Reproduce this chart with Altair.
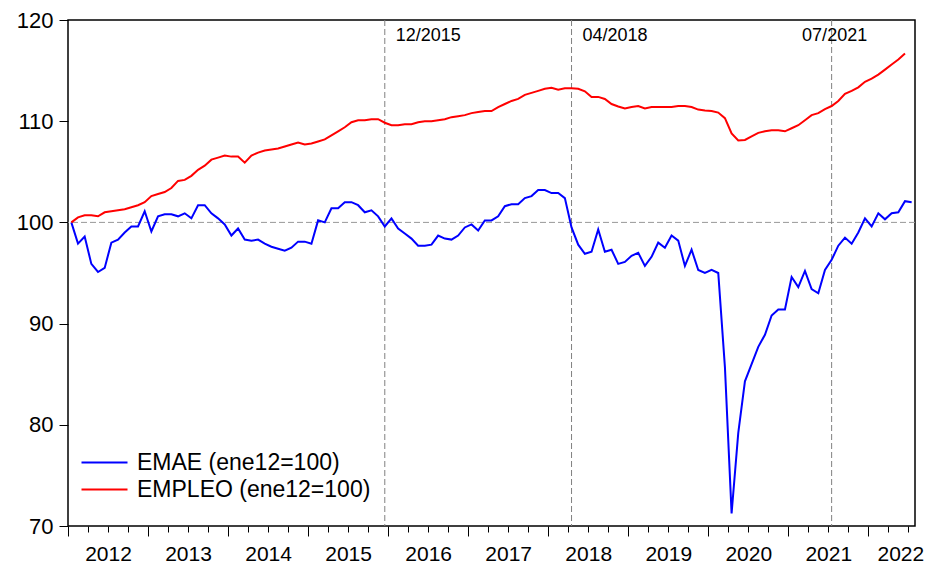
import altair as alt
import pandas as pd

# ---- data (monthly, Jan 2012 = month 0) ----
YEAR_LABELS = ["2012", "2013", "2014", "2015", "2016", "2017",
               "2018", "2019", "2020", "2021", "2022"]
YEAR_LABEL_POS = [6, 18, 30, 42, 54, 66, 78, 90, 102, 114, 124.8]  # month index of each year label
Y_TICKS = [70, 80, 90, 100, 110, 120]
SERIES_NAMES = ["EMAE (ene12=100)", "EMPLEO (ene12=100)"]
SERIES_COLORS = ["#0000FF", "#FF0000"]

EMAE = [100.0, 97.9, 98.6, 95.9, 95.1, 95.5, 98.0, 98.3, 99.0, 99.6, 99.6, 101.1,
        99.1, 100.6, 100.8, 100.8, 100.6, 100.9, 100.4, 101.7, 101.7, 100.9, 100.4, 99.8,
        98.7, 99.4, 98.3, 98.2, 98.3, 97.9, 97.6, 97.4, 97.2, 97.5, 98.1, 98.1,
        97.9, 100.2, 100.0, 101.4, 101.4, 102.0, 102.0, 101.7, 101.0, 101.2, 100.6, 99.6,
        100.4, 99.4, 98.9, 98.4, 97.7, 97.7, 97.8, 98.7, 98.4, 98.3, 98.7, 99.5,
        99.8, 99.2, 100.2, 100.2, 100.6, 101.6, 101.8, 101.8, 102.4, 102.6, 103.2, 103.2,
        102.9, 102.9, 102.4, 99.5, 97.8, 96.9, 97.1, 99.3, 97.1, 97.3, 95.9, 96.1,
        96.7, 97.0, 95.7, 96.6, 98.0, 97.5, 98.7, 98.2, 95.7, 97.3, 95.3, 95.0,
        95.3, 95.0, 85.7, 71.25, 79.2, 84.3, 86.0, 87.7, 88.9, 90.8, 91.4, 91.4,
        94.6, 93.6, 95.2, 93.4, 93.0, 95.3, 96.3, 97.7, 98.5, 97.9, 99.0, 100.4,
        99.6, 100.9, 100.3, 100.9, 101.0, 102.1, 102.0]

EMPLEO = [100.0, 100.5, 100.7, 100.7, 100.6, 101.0, 101.1, 101.2, 101.3, 101.5, 101.7, 102.0,
          102.6, 102.8, 103.0, 103.4, 104.1, 104.2, 104.6, 105.2, 105.6, 106.2, 106.4, 106.6,
          106.5, 106.5, 105.9, 106.6, 106.9, 107.1, 107.2, 107.3, 107.5, 107.7, 107.9, 107.7,
          107.8, 108.0, 108.2, 108.6, 109.0, 109.4, 109.9, 110.1, 110.1, 110.2, 110.2, 109.85,
          109.6, 109.6, 109.7, 109.7, 109.9, 110.0, 110.0, 110.1, 110.2, 110.4, 110.5, 110.6,
          110.8, 110.9, 111.0, 111.0, 111.4, 111.7, 112.0, 112.2, 112.6, 112.8, 113.0, 113.2,
          113.3, 113.1, 113.25, 113.25, 113.2, 112.95, 112.4, 112.4, 112.2, 111.7, 111.45, 111.25,
          111.4, 111.5, 111.25, 111.4, 111.4, 111.4, 111.4, 111.5, 111.5, 111.4, 111.15, 111.05,
          111.0, 110.85, 110.3, 108.8, 108.1, 108.15, 108.5, 108.85, 109.0, 109.1, 109.1, 109.0,
          109.3, 109.6, 110.1, 110.6, 110.8, 111.2, 111.5, 112.0, 112.7, 113.0, 113.35, 113.9,
          114.2, 114.6, 115.1, 115.6, 116.1, 116.7]

EVENT_LABELS = ["12/2015", "04/2018", "07/2021"]
EVENT_MONTHS = [47, 75, 114]
REF_LEVEL = [100]

N_MONTHS = 127  # Jan 2012 .. Jul 2022

# ---- tables ----
lines_df = pd.concat([
    pd.DataFrame({"m": list(range(len(EMAE))), "v": EMAE, "serie": SERIES_NAMES[0]}),
    pd.DataFrame({"m": list(range(len(EMPLEO))), "v": EMPLEO, "serie": SERIES_NAMES[1]}),
], ignore_index=True)
events_df = pd.DataFrame({"m": EVENT_MONTHS, "label": EVENT_LABELS})
ref_df = pd.DataFrame({"v": REF_LEVEL})

FONT = "Liberation Sans"
x_scale = alt.Scale(domain=[0, N_MONTHS], nice=False, zero=False)
y_scale = alt.Scale(domain=[70, 120], nice=False, zero=False)

label_array = "[" + ",".join("'" + y + "'" for y in YEAR_LABELS) + "]"
pos_array = "[" + ",".join(str(p) for p in YEAR_LABEL_POS) + "]"
tick_values = sorted(set(list(range(0, N_MONTHS, 3)) + YEAR_LABEL_POS))
x_axis = alt.Axis(
    values=tick_values,
    tickSize={"condition": {"test": "datum.value % 12 === 0", "value": 10}, "value": 6},
    tickOpacity={"condition": {"test": "datum.value % 3 !== 0", "value": 0}, "value": 1},
    tickColor="black", tickWidth=1,
    labelExpr=f"indexof({pos_array}, datum.value) >= 0 ? "
              f"{label_array}[indexof({pos_array}, datum.value)] : ''",
    labelFont=FONT, labelFontSize=21, labelColor="black", labelPadding=11,
    labelOverlap=False, labelFlush=False,
    grid=False, domain=False, title=None,
)
y_axis = alt.Axis(
    values=Y_TICKS, tickSize=9, tickColor="black", tickWidth=1,
    labelFont=FONT, labelFontSize=22, labelColor="black", labelPadding=6,
    grid=False, domain=False, title=None,
)

ref_rule = alt.Chart(ref_df).mark_rule(
    color="#999999", strokeWidth=1, strokeDash=[6, 3]
).encode(y=alt.Y("v:Q", scale=y_scale, axis=y_axis))

event_rules = alt.Chart(events_df).transform_calculate(t="datum.m + 0.5").mark_rule(
    color="#808080", strokeWidth=1, strokeDash=[6, 3]
).encode(x=alt.X("t:Q", scale=x_scale, axis=x_axis))

lines = alt.Chart(lines_df).transform_calculate(t="datum.m + 0.5").mark_line(
    strokeWidth=2
).encode(
    x=alt.X("t:Q", scale=x_scale, axis=x_axis),
    y=alt.Y("v:Q", scale=y_scale, axis=y_axis),
    color=alt.Color(
        "serie:N",
        scale=alt.Scale(domain=SERIES_NAMES, range=SERIES_COLORS),
        legend=alt.Legend(
            orient="none", legendX=24, legendY=430, title=None,
            symbolType="M-2,0H2", symbolSize=529, symbolStrokeWidth=2,
            labelFont=FONT, labelFontSize=23, labelColor="black",
            labelOffset=20, rowPadding=2, padding=0, labelLimit=0,
        ),
    ),
    detail="serie:N",
)

ev_left = alt.Chart(events_df).transform_filter("datum.m < 100").transform_calculate(
    t="datum.m + 0.5").mark_text(
    font=FONT, fontSize=18, color="black", align="left", baseline="alphabetic", dx=11
).encode(x=alt.X("t:Q", scale=x_scale, axis=x_axis), y=alt.value(21), text="label:N")

ev_center = alt.Chart(events_df).transform_filter("datum.m >= 100").transform_calculate(
    t="datum.m + 0.5").mark_text(
    font=FONT, fontSize=18, color="black", align="center", baseline="alphabetic", dx=3
).encode(x=alt.X("t:Q", scale=x_scale, axis=x_axis), y=alt.value(21), text="label:N")

chart = alt.layer(ref_rule, event_rules, lines, ev_left, ev_center).properties(
    width=847, height=506,
    autosize=alt.AutoSizeParams(type="none"),
    padding={"left": 60, "top": 12, "right": 10, "bottom": 39},
    background="white",
).configure_view(stroke="black", strokeWidth=1.5)

chart.save("out.html", embed_options={"renderer": "svg", "actions": False})
